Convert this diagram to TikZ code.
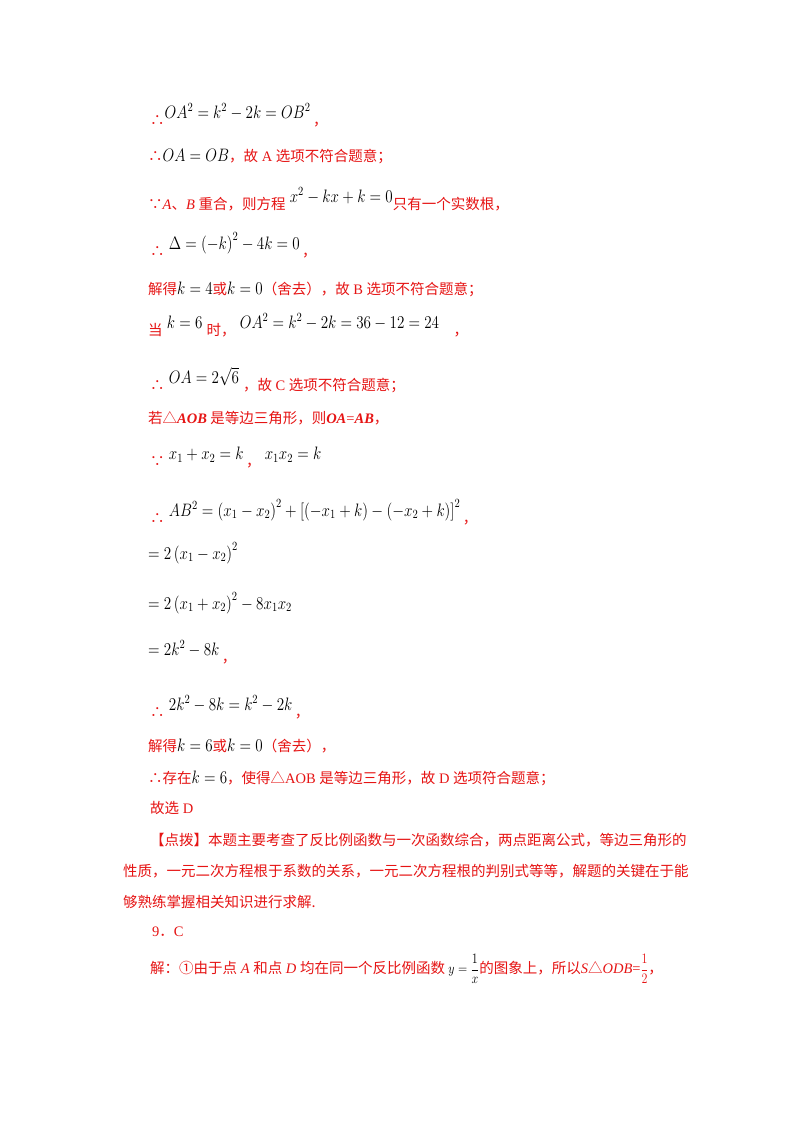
\documentclass[tikz,border=0pt]{standalone}
\usepackage{fontspec}
\usepackage{graphicx}
\setmainfont{Noto Sans CJK SC}
\newfontfamily\lat{Liberation Serif}
\definecolor{rd}{RGB}{230,20,20}
\newcommand{\M}[1]{{\color{black}\scalebox{1.05}[1.25]{$#1$}}}
\newcommand{\UM}[1]{\raisebox{7pt}{\M{#1}}}
\newcommand{\LA}[1]{{\lat #1}}
\begin{document}
\begin{tikzpicture}[x=1pt,y=-1pt,
 ln/.style={anchor=west,inner sep=0pt,text=rd,font=\fontsize{14.5}{18}\selectfont}]
\useasboundingbox[fill=white] (0,0) rectangle (800,1132);
\node[ln] (l1) at (150,115) {∴\UM{OA^2=k^2-2k=OB^2}\,，};
\node[ln] (l2) at (148,157) {∴\M{OA=OB}，故\LA{ A }选项不符合题意；};
\node[ln] (l3) at (148,199) {∵\LA{\textit{A}}、\LA{\textit{B }}重合，则方程\UM{\;x^2-kx+k=0}只有一个实数根，};
\node[ln] (l4) at (150,245) {∴\UM{\;\Delta=\left(-k\right)^2-4k=0}\,，};
\node[ln] (l5) at (148,289) {解得\M{k=4}或\M{k=0}（舍去），故\LA{ B }选项不符合题意；};
\node[ln] (l6) at (148,325) {当\UM{\;k=6\;}时，\UM{\;OA^2=k^2-2k=36-12=24}\quad，};
\node[ln] (l7) at (150,380) {∴\UM{\;OA=2\sqrt{6}}\;，故\LA{ C }选项不符合题意；};
\node[ln] (l8) at (148,418) {若△\LA{\textbf{\textit{AOB}}} 是等边三角形，则\LA{\textbf{\textit{OA}}=\textbf{\textit{AB}}}，};
\node[ln] (l9) at (150,458) {∵\UM{\;x_1+x_2=k}\,，\UM{\;x_1x_2=k}};
\node[ln] (l10) at (150,512) {∴\UM{\;AB^2=\left(x_1-x_2\right)^2+\left[\left(-x_1+k\right)-\left(-x_2+k\right)\right]^2}\,，};
\node[ln] (l11) at (148,553) {\M{=2\left(x_1-x_2\right)^2}};
\node[ln] (l12) at (148,603) {\M{=2\left(x_1+x_2\right)^2-8x_1x_2}};
\node[ln] (l13) at (148,652) {\UM{=2k^2-8k}\,，};
\node[ln] (l14) at (150,707) {∴\UM{\;2k^2-8k=k^2-2k}\,，};
\node[ln] (l15) at (148,746) {解得\M{k=6}或\M{k=0}（舍去），};
\node[ln] (l16) at (148,778) {∴存在\M{k=6}，使得△\LA{AOB }是等边三角形，故\LA{ D }选项符合题意；};
\node[ln] (l17) at (150,808) {故选\LA{ D}};
\node[ln] (l18) at (150,840) {【点拨】本题主要考查了反比例函数与一次函数综合，两点距离公式，等边三角形的};
\node[ln] (l19) at (123,871) {性质，一元二次方程根于系数的关系，一元二次方程根的判别式等等，解题的关键在于能};
\node[ln] (l20) at (123,902) {够熟练掌握相关知识进行求解.};
\node[ln] (l21) at (152,932) {\LA{9}．\LA{C}};
\node[ln] (l22) at (150,969) {解：①由于点\LA{\textit{ A }}和点\LA{\textit{ D }}均在同一个反比例函数\scalebox{0.8}{\M{\;y=\displaystyle\frac{1}{x}}}的图象上，所以\LA{\textit{S}}△\LA{\textit{ODB}=}\scalebox{0.8}{\M{\color{rd}\displaystyle\frac{1}{2}}}，};
\end{tikzpicture}
\end{document}
